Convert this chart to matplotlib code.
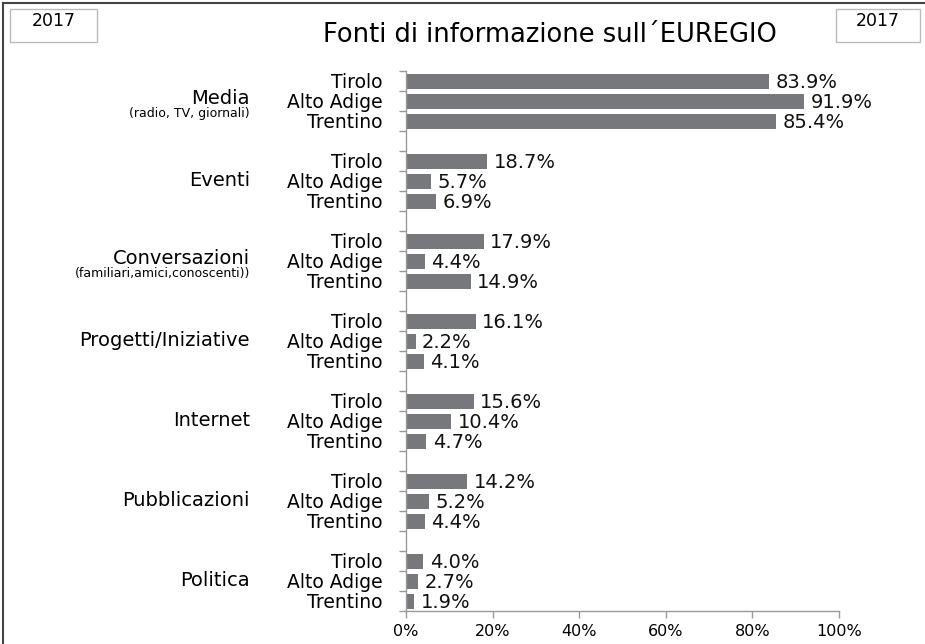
import matplotlib
matplotlib.use("Agg")
import matplotlib.pyplot as plt
from matplotlib.transforms import blended_transform_factory
from matplotlib.patches import Rectangle
from matplotlib.lines import Line2D

plt.rcParams['font.family'] = ['DejaVu Sans']

title = "Fonti di informazione sull\u00b4EUREGIO"
year = "2017"
groups = ["Media", "Eventi", "Conversazioni", "Progetti/Iniziative",
          "Internet", "Pubblicazioni", "Politica"]
group_sub = ["(radio, TV, giornali)", "", "(familiari,amici,conoscenti))", "", "", "", ""]
regions = ["Tirolo", "Alto Adige", "Trentino"]
tirolo = [83.9, 18.7, 17.9, 16.1, 15.6, 14.2, 4.0]
alto_adige = [91.9, 5.7, 4.4, 2.2, 10.4, 5.2, 2.7]
trentino = [85.4, 6.9, 14.9, 4.1, 4.7, 4.4, 1.9]
xticks = [0, 20, 40, 60, 80, 100]

W, H = 925, 644
fig = plt.figure(figsize=(W / 100, H / 100), dpi=100)
ax = fig.add_axes([406 / W, 1 - 611 / H, (839 - 406) / W, (611 - 71) / H])

bar_color = "#77787b"
pos, vals, labs = [], [], []
for g in range(len(groups)):
    for r, series in enumerate([tirolo, alto_adige, trentino]):
        pos.append(g * 4 + r)
        vals.append(series[g])
        labs.append(regions[r])

ax.barh(pos, vals, height=0.75, color=bar_color)
for p, v in zip(pos, vals):
    ax.text(v + 1.5, p + 0.05, f"{v:.1f}%", va="center", ha="left", fontsize=14, color="#111111")

nslots = len(groups) * 4 - 1
ax.set_ylim(nslots - 0.5, -0.5)
ax.set_xlim(0, 100)
ax.set_yticks(pos)
ax.set_yticklabels(labs, fontsize=13.5)
ax.set_yticks([i - 0.5 for i in range(nslots + 1)], minor=True)
ax.tick_params(axis="y", which="major", length=0, pad=17)
ax.tick_params(axis="y", which="minor", length=5, color="#999999", width=1)
ax.set_xticks(xticks)
ax.set_xticklabels([f"{t}%" for t in xticks], fontsize=11.5)
ax.tick_params(axis="x", length=5, color="#999999", width=1, pad=4)
for s in ["top", "right"]:
    ax.spines[s].set_visible(False)
for s in ["left", "bottom"]:
    ax.spines[s].set_color("#999999")
    ax.spines[s].set_linewidth(1)

tr = blended_transform_factory(fig.transFigure, ax.transData)
for g, (name, sub) in enumerate(zip(groups, group_sub)):
    c = g * 4 + 1
    if sub:
        ax.text(250 / W, c - 0.1, name, transform=tr, ha="right", va="center", fontsize=14)
        ax.text(250 / W, c + 0.65, sub, transform=tr, ha="right", va="center", fontsize=9)
    else:
        ax.text(250 / W, c, name, transform=tr, ha="right", va="center", fontsize=14)

fig.text(550 / W, 1 - 35 / H, title, ha="center", va="center", fontsize=18.5)

# year boxes
for (x0, x1) in [(10, 97), (836, 920)]:
    fig.patches.append(Rectangle((x0 / W, 1 - 42 / H), (x1 - x0) / W, 33 / H,
                                 transform=fig.transFigure, fill=False,
                                 edgecolor="#bbbbbb", linewidth=1))
    fig.text((x0 + x1) / 2 / W, 1 - 21 / H, year, ha="center", va="center", fontsize=12.5)

# outer frame (left and top)
fig.lines.append(Line2D([3 / W, 3 / W], [0, 1 - 3 / H], transform=fig.transFigure,
                        color="#444444", linewidth=1.5))
fig.lines.append(Line2D([3 / W, 1], [1 - 3 / H, 1 - 3 / H], transform=fig.transFigure,
                        color="#444444", linewidth=1.5))

fig.savefig("out.png", dpi=100)
